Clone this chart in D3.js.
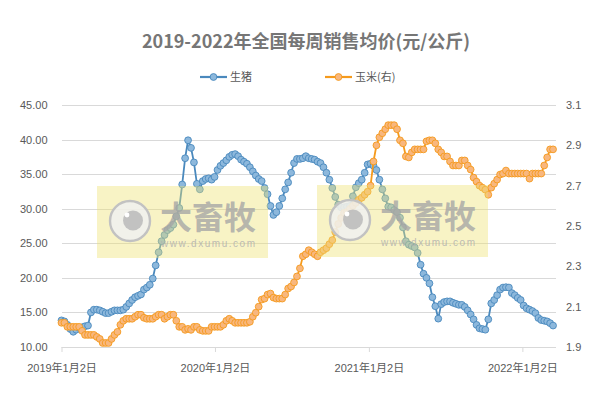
<!DOCTYPE html>
<html>
<head>
<meta charset="utf-8">
<script src="https://cdn.jsdelivr.net/npm/d3@7"></script>
<style>
  html, body { margin: 0; padding: 0; background: #fff; }
  svg { display: block; }
</style>
</head>
<body>
<svg id="chart" width="601" height="393"></svg>
<script>
// weekly series, first week 2019-01-02
const startDate = new Date(2019, 0, 2);
const endDate = new Date(2022, 2, 23);

const porkPrice = [
  13.85, 13.7, 13.2, 12.6, 12.2, 12.5, 12.75, 12.85, 13.0, 13.1,
  15.0, 15.4, 15.4, 15.3, 15.1, 14.9, 14.9, 15.1, 15.3, 15.3,
  15.3, 15.4, 15.8, 16.3, 16.8, 17.2, 17.4, 17.6, 18.3, 18.6,
  19.0, 19.9, 21.8, 23.7, 25.3, 26.2, 26.9, 27.2, 27.7, 28.9,
  30.1, 33.5, 37.3, 39.9, 38.8, 36.7, 33.6, 32.8, 34.0, 34.3,
  34.4, 34.2, 34.6, 35.6, 36.2, 36.6, 37.0, 37.5, 37.8, 37.9,
  37.6, 37.1, 36.8, 36.5, 36.0, 35.4, 34.8, 34.3, 34.0, 33.0,
  32.1, 30.4, 29.1, 29.5, 30.4, 31.5, 32.8, 33.8, 35.2, 36.6,
  37.2, 37.2, 37.3, 37.6, 37.3, 37.2, 37.1, 36.8, 36.6, 36.0,
  35.2, 34.2, 33.0, 31.7, 30.6, 30.2, 30.2, 30.3, 30.4, 31.8,
  33.1, 33.7, 34.2, 35.2, 36.4, 36.5, 36.2, 35.6, 34.2, 32.8,
  31.5, 30.3, 30.2, 29.8, 29.5, 28.7, 27.3, 25.3, 24.8, 24.6,
  24.4, 23.6, 21.9, 20.6, 20.0, 19.2, 17.2, 15.9, 14.1, 16.2,
  16.5, 16.6, 16.6, 16.4, 16.25, 16.1, 16.1, 15.8, 15.3, 14.7,
  14.0, 13.2, 12.7, 12.6, 12.5, 14.0, 16.3, 16.8, 17.5, 18.3,
  18.6, 18.65, 18.6, 17.8, 17.5, 17.1, 16.8, 16.0, 15.6, 15.4,
  15.2, 14.9, 14.2, 13.9, 13.8, 13.7, 13.45, 13.1
];

const cornPrice = [
  2.02, 2.02, 2.00, 2.00, 2.00, 2.00, 2.00, 1.98, 1.96, 1.96,
  1.96, 1.96, 1.95, 1.94, 1.92, 1.92, 1.92, 1.94, 1.96, 1.975,
  2.01, 2.03, 2.04, 2.04, 2.04, 2.05, 2.06, 2.06, 2.045, 2.04,
  2.04, 2.04, 2.05, 2.06, 2.06, 2.04, 2.05, 2.06, 2.06, 2.03,
  2.00, 2.00, 1.985, 1.99, 1.985, 2.00, 2.00, 1.985, 1.98, 1.98,
  1.98, 2.00, 2.00, 2.00, 2.00, 2.01, 2.03, 2.04, 2.03, 2.02,
  2.02, 2.02, 2.02, 2.02, 2.025, 2.05, 2.07, 2.10, 2.135, 2.14,
  2.16, 2.165, 2.145, 2.14, 2.14, 2.14, 2.16, 2.19, 2.20, 2.22,
  2.25, 2.29, 2.35, 2.36, 2.38, 2.37, 2.36, 2.35, 2.37, 2.38,
  2.39, 2.41, 2.43, 2.47, 2.51, 2.54, 2.565, 2.57, 2.585, 2.60,
  2.615, 2.63, 2.64, 2.655, 2.67, 2.70, 2.82, 2.90, 2.94, 2.96,
  2.98, 3.00, 3.00, 3.00, 2.98, 2.925, 2.91, 2.845, 2.84, 2.865,
  2.88, 2.88, 2.88, 2.88, 2.92, 2.925, 2.925, 2.91, 2.88, 2.865,
  2.845, 2.845, 2.82, 2.80, 2.80, 2.80, 2.825, 2.825, 2.80, 2.78,
  2.74, 2.72, 2.70, 2.69, 2.68, 2.655, 2.69, 2.71, 2.73, 2.755,
  2.76, 2.775, 2.76, 2.76, 2.76, 2.76, 2.76, 2.76, 2.76, 2.735,
  2.76, 2.76, 2.76, 2.76, 2.80, 2.84, 2.88, 2.88
];

const leftTicks = [10, 15, 20, 25, 30, 35, 40, 45];
const rightTicks = [1.9, 2.1, 2.3, 2.5, 2.7, 2.9, 3.1];
const xTickDates = [new Date(2019, 0, 2), new Date(2020, 0, 2), new Date(2021, 0, 2), new Date(2022, 0, 2)];

const titleText = "2019-2022年全国每周销售均价(元/公斤)";
const seriesNames = ["生猪", "玉米(右)"];

const porkLine = '#4a89bd';
const porkFill = '#8db8dc';
const cornLine = '#f59a1c';
const cornFill = '#f8b77e';
const gridColor = '#d9d9d9';
const textColor = '#595959';
const latinFont = '"Liberation Sans", "Noto Sans CJK SC", sans-serif';
const cjkFont = '"Noto Sans CJK SC", sans-serif';

const svg = d3.select("#chart");
const margin = { top: 105, right: 45, bottom: 46, left: 61.5 };
const W = +svg.attr("width"), H = +svg.attr("height");
const plotRight = W - margin.right;
const plotBottom = H - margin.bottom;

const dates = porkPrice.map((d, i) => d3.timeDay.offset(startDate, i * 7));
const pork = porkPrice.map((v, i) => ({ date: dates[i], value: v }));
const corn = cornPrice.map((v, i) => ({ date: dates[i], value: v }));

const x = d3.scaleTime().domain([startDate, endDate]).range([margin.left, plotRight]);
const yL = d3.scaleLinear().domain([10, 45]).range([plotBottom, margin.top]);
const yR = d3.scaleLinear().domain([1.9, 3.1]).range([plotBottom, margin.top]);

// title
svg.append("text")
  .attr("x", 306)
  .attr("y", 48)
  .attr("text-anchor", "middle")
  .style("font-family", cjkFont)
  .style("font-size", "18px")
  .style("font-weight", "bold")
  .style("fill", "#767676")
  .text(titleText);

// grid
svg.append("g")
  .attr("transform", `translate(${margin.left},0)`)
  .call(d3.axisLeft(yL).tickValues(leftTicks).tickSize(-(plotRight - margin.left)).tickFormat(""))
  .call(g => g.select(".domain").remove())
  .selectAll("line")
  .attr("stroke", gridColor)
  .attr("shape-rendering", "crispEdges");

// left labels
svg.append("g")
  .attr("transform", `translate(${margin.left},0)`)
  .call(d3.axisLeft(yL).tickValues(leftTicks).tickSize(0).tickPadding(14).tickFormat(d3.format(".2f")))
  .call(g => g.select(".domain").remove())
  .selectAll("text")
  .style("font-family", latinFont)
  .style("font-size", "11px")
  .style("fill", textColor);

// right labels
svg.append("g")
  .attr("transform", `translate(${plotRight},0)`)
  .call(d3.axisRight(yR).tickValues(rightTicks).tickSize(0).tickPadding(10).tickFormat(d3.format(".1f")))
  .call(g => g.select(".domain").remove())
  .selectAll("text")
  .style("font-family", latinFont)
  .style("font-size", "11px")
  .style("fill", textColor);

// x axis
const xAxis = svg.append("g")
  .attr("transform", `translate(0,${plotBottom})`)
  .call(d3.axisBottom(x).tickValues(xTickDates).tickSize(5).tickPadding(12).tickFormat(d3.timeFormat("%Y年%-m月%-d日")));
xAxis.select(".domain").attr("stroke", gridColor).attr("d", `M${margin.left},0.5H${plotRight}`);
xAxis.selectAll("line").attr("stroke", gridColor);
xAxis.selectAll("text")
  .style("font-family", latinFont)
  .style("font-size", "11px")
  .style("fill", textColor);

function drawSeries(data, y, stroke, fill) {
  const g = svg.append("g");
  g.append("path")
    .datum(data)
    .attr("fill", "none")
    .attr("stroke", stroke)
    .attr("stroke-width", 1.8)
    .attr("d", d3.line().x(d => x(d.date)).y(d => y(d.value)));
  g.selectAll("circle")
    .data(data)
    .enter()
    .append("circle")
    .attr("cx", d => x(d.date))
    .attr("cy", d => y(d.value))
    .attr("r", 3.4)
    .attr("fill", fill)
    .attr("stroke", stroke)
    .attr("stroke-width", 0.9);
}

drawSeries(pork, yL, porkLine, porkFill);
drawSeries(corn, yR, cornLine, cornFill);

// watermarks on top
function watermark(x0, y0) {
  const g = svg.append("g").attr("transform", `translate(${x0},${y0})`);
  g.append("rect")
    .attr("width", 171).attr("height", 72)
    .attr("fill", "rgb(238,224,110)")
    .attr("opacity", 0.4);
  g.append("circle")
    .attr("cx", 33).attr("cy", 35).attr("r", 20)
    .attr("fill", "#f0f0f0").attr("fill-opacity", 0.85)
    .attr("stroke", "#c2c2c2").attr("stroke-width", 2.4);
  g.append("circle")
    .attr("cx", 36).attr("cy", 34.5).attr("r", 10)
    .attr("fill", "#bdbdbd").attr("fill-opacity", 0.9);
  g.append("circle")
    .attr("cx", 30).attr("cy", 29).attr("r", 2.4)
    .attr("fill", "#fff");
  g.append("text")
    .attr("x", 111).attr("y", 43)
    .attr("text-anchor", "middle")
    .style("font-family", cjkFont)
    .style("font-size", "32px")
    .style("font-weight", "bold")
    .style("fill", "#a6a6a6")
    .style("fill-opacity", 0.8)
    .text("大畜牧");
  g.append("text")
    .attr("x", 64).attr("y", 61)
    .attr("textLength", 94)
    .attr("lengthAdjust", "spacing")
    .style("font-family", latinFont)
    .style("font-size", "10px")
    .style("fill", "#b0b0b0")
    .style("fill-opacity", 0.85)
    .text("www.dxumu.com");
}
watermark(97, 186);
watermark(317, 185);

// legend
const legend = [
  { name: seriesNames[0], x: 200, stroke: porkLine, fill: porkFill },
  { name: seriesNames[1], x: 325, stroke: cornLine, fill: cornFill }
];
const lg = svg.selectAll(".legend")
  .data(legend)
  .enter()
  .append("g")
  .attr("class", "legend")
  .attr("transform", d => `translate(${d.x},77)`);
lg.append("line")
  .attr("x1", 0).attr("x2", 27)
  .attr("stroke", d => d.stroke).attr("stroke-width", 2.2);
lg.append("circle")
  .attr("cx", 13.5).attr("r", 3.4)
  .attr("fill", d => d.fill).attr("stroke", d => d.stroke).attr("stroke-width", 0.9);
lg.append("text")
  .attr("x", 30).attr("dy", "0.35em")
  .style("font-family", cjkFont)
  .style("font-size", "11px")
  .style("fill", textColor)
  .text(d => d.name);
</script>
</body>
</html>
